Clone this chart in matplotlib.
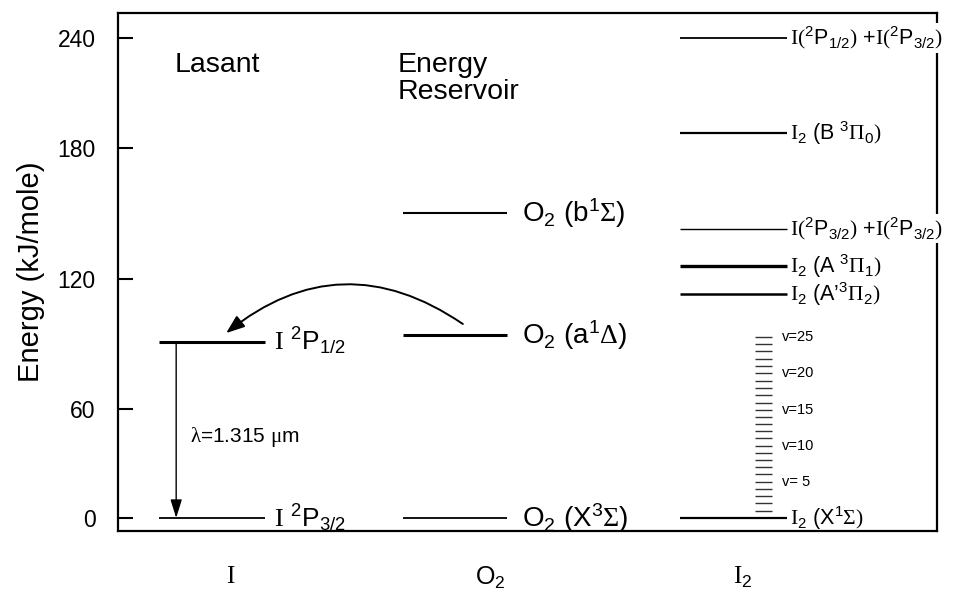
import numpy as np
import matplotlib
matplotlib.use("Agg")
import matplotlib.pyplot as plt

plt.rcParams['font.family'] = 'Liberation Sans'
plt.rcParams['mathtext.fontset'] = 'custom'
plt.rcParams['mathtext.rm'] = 'Liberation Sans'
plt.rcParams['mathtext.sf'] = 'Liberation Sans'
plt.rcParams['mathtext.it'] = 'Liberation Sans:italic'
plt.rcParams['mathtext.bf'] = 'Liberation Sans:bold'
plt.rcParams['mathtext.tt'] = 'Liberation Serif'
plt.rcParams['mathtext.default'] = 'rm'

# energy levels (kJ/mole)
I_energy = [91, 0]
I_labels = [r'$\mathtt{I}\ {}^{2}P_{1/2}$', r'$\mathtt{I}\ {}^{2}P_{3/2}$']

O2_energy = [150, 94, 0]
O2_labels = [r'$O_{2}\ (b^{1}\mathtt{\Sigma})$', r'$O_{2}\ (a^{1}\mathtt{\Delta})$',
             r'$O_{2}\ (X^{3}\mathtt{\Sigma})$']

I2_energy = [240, 188, 143, 126, 113, 0]
I2_labels = [r'$\mathtt{I(}{}^{2}P_{1/2}\mathtt{)}\ {+}\mathtt{I(}{}^{2}P_{3/2}\mathtt{)}$',
             r'$\mathtt{I}_{2}\ (B\ {}^{3}\mathtt{\Pi}_{0}\mathtt{)}$',
             r'$\mathtt{I(}{}^{2}P_{3/2}\mathtt{)}\ {+}\mathtt{I(}{}^{2}P_{3/2}\mathtt{)}$',
             r'$\mathtt{I}_{2}\ (A\ {}^{3}\mathtt{\Pi}_{1}\mathtt{)}$',
             r'$\mathtt{I}_{2}\ (A’{}^{3}\mathtt{\Pi}_{2}\mathtt{)}$',
             r'$\mathtt{I}_{2}\ (X^{1}\mathtt{\Sigma}\mathtt{)}$']

# I2 ground state vibrational ladder v=1..25
v_levels = list(range(1, 26))
v_energy = [4.0, 8.0, 11.9, 15.9, 19.9, 23.9, 27.9, 31.8, 35.8, 39.8,
            43.8, 47.8, 51.7, 55.7, 59.5, 62.9, 66.3, 69.6, 73.0, 76.4,
            79.7, 83.1, 86.5, 89.9, 93.2]
v_marked = [5, 10, 15, 20, 25]

species = [r'$\mathtt{I}$', r'$O_{2}$', r'$\mathtt{I}_{2}$']
yticks = [0, 60, 120, 180, 240]

# the original axis is not evenly spaced: map energy onto it piecewise
scale_E = [-60, 0, 60, 120, 180, 240, 300]
scale_P = [-109, 0, 109, 239, 370, 480, 590]


def fwd(e):
    return np.interp(e, scale_E, scale_P)


def inv(p):
    return np.interp(p, scale_P, scale_E)


fig = plt.figure(figsize=(9.69, 5.97), dpi=100)
ax = fig.add_axes([0.1218, 0.1106, 0.8452, 0.8676])
ax.set_yscale('function', functions=(fwd, inv))
ax.set_xlim(0, 1)
ax.set_ylim(-7.2, 253.6)

white = dict(facecolor='white', edgecolor='none', pad=1)

# lasant
for e, lab, lw in zip(I_energy, I_labels, [2.2, 1.3]):
    ax.plot([0.05, 0.179], [e, e], color='k', lw=lw, solid_capstyle='butt')
    ax.text(0.19, e, lab, fontsize=19, va='center', ha='left')

# energy reservoir
for e, lab, lw in zip(O2_energy, O2_labels, [1.5, 2.2, 1.3]):
    ax.plot([0.348, 0.475], [e, e], color='k', lw=lw, solid_capstyle='butt')
    ax.text(0.493, e, lab, fontsize=20, va='center', ha='left')

# iodine molecule
for e, lab, lw in zip(I2_energy, I2_labels, [1.3, 1.6, 1.0, 2.4, 1.8, 1.6]):
    ax.plot([0.686, 0.817], [e, e], color='k', lw=lw, solid_capstyle='butt')
    t = ax.text(0.82, e, lab, fontsize=15.5, va='center', ha='left', zorder=4)
    if lab.startswith(r'$\mathtt{I(}'):
        t.set_bbox(white)

for v, e in zip(v_levels, v_energy):
    ax.plot([0.778, 0.799], [e, e], color='#333333', lw=1.0, solid_capstyle='butt')
    if v in v_marked:
        ax.text(0.811, e, 'v=%2d' % v if v >= 10 else 'v= %d' % v,
                fontsize=10.5, va='center', ha='left')

# laser transition
ax.annotate('', xy=(0.071, I_energy[1]), xytext=(0.071, I_energy[0]),
            arrowprops=dict(arrowstyle='-|>,head_length=0.8,head_width=0.25',
                            color='k', lw=1.0, shrinkA=0, shrinkB=0,
                            mutation_scale=14))
ax.text(0.088, 44.6, r'$\mathtt{\lambda}$=1.315 $\mathtt{\mu}$m', fontsize=15,
        va='center', ha='left')

# energy transfer O2(a) -> I
ax.annotate('', xy=(0.132, 95), xytext=(0.421, 99.2),
            arrowprops=dict(arrowstyle='-|>,head_length=0.8,head_width=0.3',
                            color='k', lw=1.4, shrinkA=0, shrinkB=0,
                            mutation_scale=14,
                            connectionstyle='arc3,rad=0.37'))

ax.text(0.069, 232.5, 'Lasant', fontsize=20.5, va='top', ha='left')
ax.text(0.341, 232.5, 'Energy\nReservoir', fontsize=20.5, va='top', ha='left',
        linespacing=1.08)

ax.set_yticks(yticks)
ax.minorticks_off()
ax.set_xticks([0.138, 0.454, 0.763])
ax.set_xticklabels(species, fontsize=18)
ax.tick_params(axis='y', direction='in', length=11, width=1.5, pad=16,
               labelsize=16.5)
ax.tick_params(axis='x', length=0, pad=24)
ax.set_ylabel('Energy (kJ/mole)', fontsize=21)
ax.yaxis.set_label_coords(-0.089, 0.5)
for s in ax.spines.values():
    s.set_linewidth(1.6)

fig.savefig('out.png', dpi=100)
